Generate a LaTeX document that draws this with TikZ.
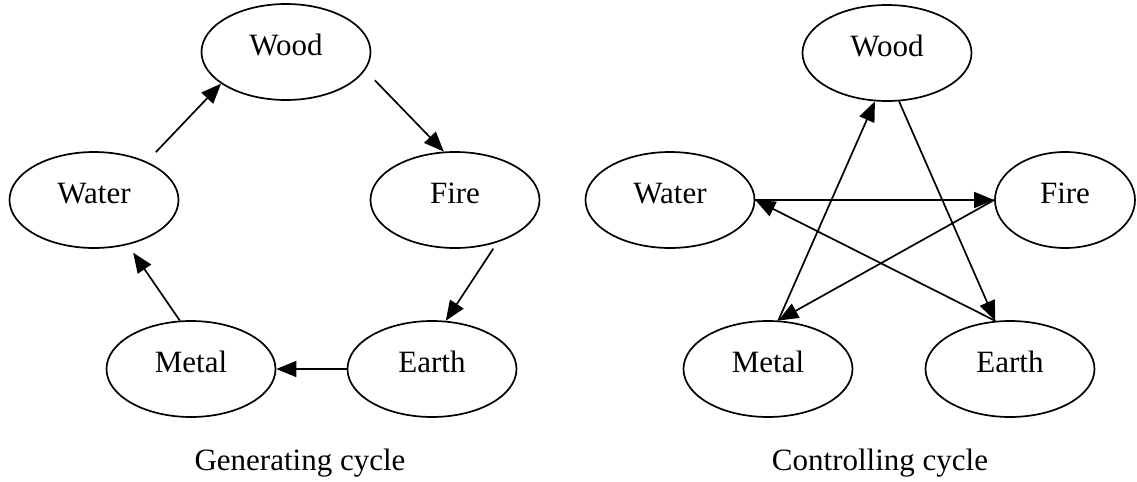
\documentclass[tikz,border=0pt]{standalone}
\usepackage{fontspec}
\setmainfont{Liberation Serif}
\usetikzlibrary{shapes.geometric,arrows.meta}
\begin{document}
\begin{tikzpicture}[x=0.5pt,y=-0.5pt,
  elem/.style={draw,ellipse,line width=0.85pt,minimum width=84.5pt,minimum height=48pt,inner sep=0pt,
    font=\fontsize{15.5}{18}\selectfont,text height=10.5pt,text depth=7pt},
  arr/.style={line width=0.85pt,-{Triangle[length=10pt,width=8pt]}},
  captxt/.style={font=\fontsize{15.5}{18}\selectfont,inner sep=0pt}]
\useasboundingbox (0,0) rectangle (1137,482);
% Generating cycle
\node[elem] (Lwood)  at (286,52)  {Wood};
\node[elem] (Lwater) at (94,200)  {Water};
\node[elem] (Lfire)  at (455,200) {Fire};
\node[elem] (Lmetal) at (191,369) {Metal};
\node[elem] (Learth) at (432,369) {Earth};
\draw[arr,shorten <=6.5pt] (Lwater.36) -- (Lwood.206);
\draw[arr,shorten <=7pt] (Lwood.-13) -- (Lfire.103);
\draw[arr,shorten <=3.75pt] (Lfire.-45) -- (Learth.74);
\draw[arr] (Learth.west) -- (Lmetal.east);
\draw[arr,shorten >=4.75pt] (Lmetal.103) -- (Lwater.-53);
% Controlling cycle
\node[elem] (Rwood)  at (887,53)  {Wood};
\node[elem] (Rwater) at (670,200) {Water};
\node[elem,minimum width=70pt] (Rfire) at (1065,200) {Fire};
\node[elem] (Rmetal) at (768,369) {Metal};
\node[elem] (Rearth) at (1010,369) {Earth};
\draw[arr] (Rmetal.78) -- (Rwood.256);
\draw[arr] (Rwood.284) -- (Rearth.107);
\draw[arr] (Rearth.107) -- (Rwater.0);
\draw[arr] (Rwater.0) -- (Rfire.180);
\draw[arr] (Rfire.180) -- (Rmetal.78);
% captions
\node[captxt] (capL) at (300,463) {Generating cycle};
\node[captxt] (capR) at (880,463) {Controlling cycle};
\end{tikzpicture}
\end{document}
